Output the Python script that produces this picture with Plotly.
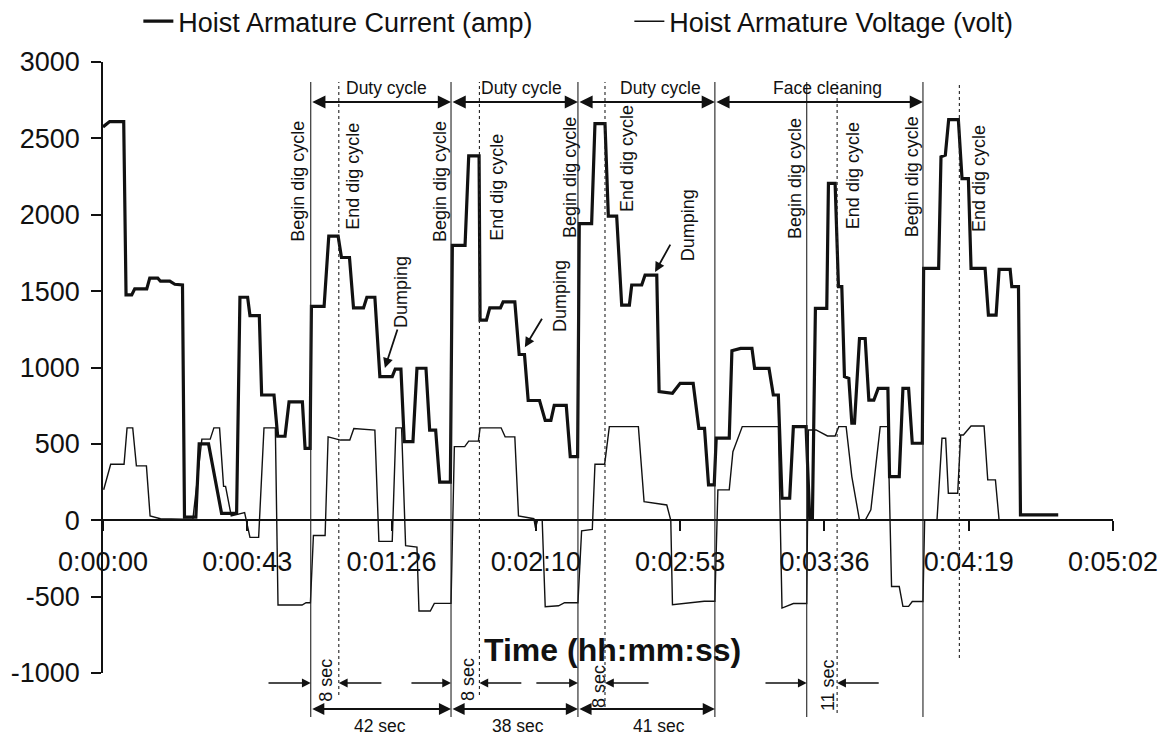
import plotly.graph_objects as go

# ---------------- data (time in seconds) ----------------
current_t = [0.0, 2.0, 6.2, 6.9, 8.6, 9.5, 13.1, 14.0, 16.4, 17.2, 20.0, 21.5, 23.8,
             24.4, 27.8, 28.8, 31.6, 35.5, 40.0, 41.0, 43.3, 44.0, 46.8, 47.5, 51.2,
             52.3, 54.5, 55.7, 59.7, 60.5, 62.0,
             62.4, 66.2, 67.6, 70.4, 71.4, 73.8, 75.0, 78.0, 79.0, 81.4, 82.9, 86.6,
             87.5, 89.2, 90.2, 92.8, 94.0, 96.7, 97.8, 99.6, 100.8, 104.0,
             104.6, 108.4, 109.5, 112.6, 112.9, 114.8, 115.8, 119.0, 119.8, 123.3,
             124.6, 126.2, 127.3, 130.7, 132.4, 134.1, 135.1, 138.7, 139.9, 142.1,
             142.6, 146.3, 147.3, 150.3, 151.3, 153.8, 155.3, 157.6, 158.3, 161.3,
             162.3, 165.8, 166.5, 170.5, 172.8, 176.7, 178.4, 180.1, 181.3, 183.0,
             183.6, 187.5, 188.3, 190.9, 194.3, 195.1, 199.4, 200.7, 202.2, 203.3,
             205.6, 206.7, 210.5, 211.6, 212.4, 213.3, 216.7, 217.2, 219.2, 220.2,
             221.2, 222.0, 223.3, 224.2, 225.0, 226.5, 228.2, 229.3, 230.8, 232.1,
             235.0, 235.5, 238.4, 239.5, 241.2, 242.3, 245.3,
             245.7, 250.2, 250.9, 252.2, 253.2, 256.1, 257.2, 259.1, 259.9, 264.1,
             265.1, 267.4, 268.3, 271.6, 272.1, 274.1, 274.7, 286.0]
current_v = [2575, 2610, 2610, 1475, 1475, 1515, 1515, 1585, 1585, 1565, 1565, 1545, 1540,
             20, 20, 500, 500, 45, 45, 1460, 1460, 1340, 1340, 820, 820,
             550, 550, 775, 775, 470, 470,
             1400, 1400, 1860, 1860, 1720, 1720, 1390, 1390, 1460, 1460, 940, 940,
             990, 990, 515, 515, 995, 995, 590, 590, 250, 250,
             1800, 1800, 2385, 2385, 1310, 1310, 1390, 1390, 1430, 1430,
             1085, 1085, 784, 784, 654, 654, 752, 752, 417, 417,
             1942, 1942, 2597, 2597, 1991, 1991, 1409, 1409, 1540, 1540,
             1605, 1605, 842, 831, 896, 896, 602, 602, 231, 231,
             537, 537, 1110, 1125, 1125, 994, 994, 820, 820, 144,
             144, 613, 613, 10, 10, 1387, 1387, 2205, 2205, 1529,
             1529, 940, 929, 635, 635, 1190, 1190, 787, 787, 863,
             863, 286, 286, 863, 863, 504, 504,
             1649, 1649, 2379, 2390, 2623, 2623, 2237, 2237, 1649, 1649,
             1343, 1343, 1642, 1642, 1529, 1529, 35, 35]

voltage_t = [0.2, 2.3, 6.3, 7.2, 8.9, 10.0, 13.0, 14.1, 17.2, 24.0, 26.9, 29.6, 32.1,
             33.2, 34.9, 36.1, 36.7, 38.4, 42.4, 44.0, 46.6, 48.2, 51.6, 52.4, 59.6,
             60.8, 62.1,
             63.0, 66.5, 67.4, 71.1, 73.9, 75.1, 81.4, 82.6, 86.6, 87.7, 89.4, 90.6,
             94.0, 94.6, 98.0, 99.2, 104.2,
             105.2, 108.3, 109.5, 112.4, 112.9, 119.2, 120.4, 123.3, 124.4, 129.0,
             129.5, 130.1, 131.5, 132.4, 136.4, 138.2, 142.2,
             143.3, 146.5, 147.3, 150.2, 151.6, 160.3, 162.0, 168.8, 170.0, 170.5,
             180.0, 183.2,
             184.1, 187.5, 188.6, 191.4, 202.2, 203.3, 206.7, 210.7,
             211.2, 213.5, 216.9, 219.2, 220.3, 222.5, 224.2, 226.5, 228.2, 229.9,
             232.7, 235.0, 236.1, 236.7, 238.4, 239.5, 241.2, 242.3, 245.5,
             246.0, 249.7, 251.2, 252.3, 253.1, 255.9, 256.8, 257.6, 259.9, 263.8,
             264.9, 267.2, 268.3, 286.0]
voltage_v = [200, 367, 367, 605, 605, 356, 356, 28, 10, 5, 5, 531, 531,
             605, 605, 222, 222, 28, 50, -112, -112, 605, 605, -555, -555,
             -540, -540,
             -100, -100, 546, 525, 525, 600, 590, -138, -138, 605, 605, -166,
             -176, -594, -594, -544, -544,
             482, 482, 518, 518, 605, 605, 546, 546, 28, 10,
             -50, 0, 0, -566, -560, -540, -540,
             -69, -60, 367, 367, 613, 613, 122, 100, 0, -553,
             -530, -530,
             199, 199, 449, 613, 613, -575, -545, -545,
             591, 591, 552, 552, 613, 613, 286, 0, 0, 68,
             613, 613, -434, -434, -434, -564, -564, -532, -532,
             0, 0, 537, 537, 177, 177, 558, 558, 617, 617,
             264, 264, 0, 0]

x_tickvals = [0, 43.2, 86.4, 129.6, 172.8, 216.0, 259.2, 302.4]
x_ticktext = ["0:00:00", "0:00:43", "0:01:26", "0:02:10", "0:02:53",
              "0:03:36", "0:04:19", "0:05:02"]
y_tickvals = [-1000, -500, 0, 500, 1000, 1500, 2000, 2500, 3000]
y_ticktext = ["-1000", "-500", "0", "500", "1000", "1500", "2000", "2500", "3000"]

begin_dig_t = [62.2, 104.2, 142.2, 183.2, 210.7, 245.5]     # solid lines
end_dig_t = [70.6, 112.7, 150.3, 219.8, 256.4]             # dashed lines
period_labels = ["Duty cycle", "Duty cycle", "Duty cycle", "Face cleaning"]
period_label_t = [85.0, 125.4, 166.9, 216.8]
period_bounds = [(62.2, 104.2), (104.2, 142.2), (142.2, 183.2), (183.2, 245.5)]
cycle_len_labels = ["42 sec", "38 sec", "41 sec"]
cycle_len_t = [83.0, 124.3, 166.6]
dig_len_labels = ["8 sec", "8 sec", "8 sec", "11 sec"]
dig_len_t = [66.7, 109.3, 148.5, 217.1]
begin_label_t = [58.3, 100.9, 139.8, 207.2, 242.3]
end_label_t = [74.8, 117.9, 156.9, 224.6, 262.3]
dump_label_t = [89.2, 136.8, 175.2]
dump_arrow_head = [(84.4, 997), (126.3, 1133), (165.3, 1625)]
dump_arrow_tail = [(88.3, 1258), (131.7, 1329), (170.1, 1814)]

# ---------------- figure ----------------
FONT = "Liberation Sans, Arial, sans-serif"
INK = "#111111"
PLOT_H = 611.0

def py(p):
    """pixel row (from top of page) -> paper y"""
    return (673.0 - p) / PLOT_H

fig = go.Figure()
fig.add_trace(go.Scatter(x=current_t, y=current_v, mode="lines",
                         name="Hoist Armature Current (amp)",
                         line=dict(color=INK, width=3.2)))
fig.add_trace(go.Scatter(x=voltage_t, y=voltage_v, mode="lines",
                         name="Hoist Armature Voltage (volt)",
                         line=dict(color=INK, width=1.4)))

shapes = []
for t in begin_dig_t:
    shapes.append(dict(type="line", xref="x", yref="paper", x0=t, x1=t,
                       y0=py(717), y1=py(82), line=dict(color="#222", width=1.1)))
dash_bottoms = [695, 695, 707, 713, 658]
for t, b in zip(end_dig_t, dash_bottoms):
    shapes.append(dict(type="line", xref="x", yref="paper", x0=t, x1=t,
                       y0=py(b), y1=py(82), line=dict(color="#222", width=1.1, dash="3px,3px")))

ann = []
small = dict(family=FONT, size=17.5, color=INK)
rot = dict(family=FONT, size=18, color=INK)

def label(x, y, text, xref="x", angle=0, font=small):
    return dict(x=x, y=y, xref=xref, yref="paper", text=text, textangle=angle,
                showarrow=False, font=font, xanchor="center", yanchor="middle")

# top period arrows + labels
for (a, b), lab, lt in zip(period_bounds, period_labels, period_label_t):
    ann.append(dict(x=b, y=py(102), xref="x", yref="paper", ax=a, ay=0,
                    axref="x", ayref="pixel", text="", showarrow=True,
                    arrowhead=2, arrowside="end+start", arrowsize=1.2,
                    arrowwidth=2.2, arrowcolor=INK, standoff=0, startstandoff=0))
    ann.append(label(lt, py(88), lab))
# rotated labels
for t, yy in zip(begin_label_t, [181, 182, 177, 179, 177]):
    ann.append(label(t, py(yy), "Begin dig cycle", angle=-90, font=rot))
for t, yy in zip(end_label_t, [176, 187, 159, 176, 179]):
    ann.append(label(t, py(yy), "End dig cycle", angle=-90, font=rot))
for t, yy in zip(dump_label_t, [292, 296, 225]):
    ann.append(label(t, py(yy), "Dumping", angle=-90, font=rot))
for (hx, hy), (tx, ty) in zip(dump_arrow_head, dump_arrow_tail):
    ann.append(dict(x=hx, y=hy, xref="x", yref="y", ax=tx, ay=ty, axref="x", ayref="y",
                    text="", showarrow=True, arrowhead=2, arrowsize=1.1, arrowwidth=1.8,
                    arrowcolor=INK, standoff=0))
# bottom cycle-length arrows
for (a, b), lab, lt in zip(period_bounds[:3], cycle_len_labels, cycle_len_t):
    ann.append(dict(x=b, y=py(709), xref="x", yref="paper", ax=a, ay=0,
                    axref="x", ayref="pixel", text="", showarrow=True,
                    arrowhead=2, arrowside="end+start", arrowsize=1.1,
                    arrowwidth=2.2, arrowcolor=INK, standoff=0, startstandoff=0))
    ann.append(label(lt, py(726), lab))
# dig-length labels and pointer arrows
for t, lab, yy in zip(dig_len_t, dig_len_labels, [680, 680, 686, 685]):
    ann.append(label(t, py(yy), lab, angle=-90, font=rot))
pointer_heads = [begin_dig_t[0], end_dig_t[0], begin_dig_t[1], end_dig_t[1],
                 begin_dig_t[2], end_dig_t[2], begin_dig_t[4], end_dig_t[3]]
pointer_tails = [49.1, 83.8, 91.9, 125.7, 129.3, 163.8, 197.9, 232.7]
for h, tl in zip(pointer_heads, pointer_tails):
    ann.append(dict(x=h, y=py(683), xref="x", yref="paper", ax=tl, ay=0,
                    axref="x", ayref="pixel", text="", showarrow=True,
                    arrowhead=2, arrowsize=1.1, arrowwidth=1.6, arrowcolor=INK, standoff=0))
# axis title
ann.append(label(0.504, py(650), "<b>Time (hh:mm:ss)</b>", xref="paper",
                 font=dict(family=FONT, size=32, color=INK)))

fig.update_layout(
    width=1172, height=735,
    margin=dict(l=103, r=59, t=62, b=62, autoexpand=False),
    paper_bgcolor="white", plot_bgcolor="white",
    font=dict(family=FONT, color=INK),
    shapes=shapes, annotations=ann,
    showlegend=True,
    legend=dict(orientation="h", x=0.035, xanchor="left", y=1.066, yanchor="middle",
                font=dict(family=FONT, size=27, color=INK),
                entrywidth=446, entrywidthmode="pixels", bgcolor="rgba(0,0,0,0)"),
    xaxis=dict(range=[0, 302.4], anchor="free", position=0.25,
               showline=True, linecolor=INK, linewidth=1.6,
               ticks="outside", ticklen=10, tickwidth=1.6, tickcolor=INK,
               tickvals=x_tickvals, ticktext=x_ticktext,
               tickfont=dict(family=FONT, size=27, color=INK),
               ticklabelstandoff=8, showgrid=False, zeroline=False),
    yaxis=dict(range=[-1000, 3000], showline=True, linecolor=INK, linewidth=1.6,
               ticks="outside", ticklen=10, tickwidth=1.6, tickcolor=INK,
               tickvals=y_tickvals, ticktext=y_ticktext,
               tickfont=dict(family=FONT, size=27, color=INK),
               ticklabelstandoff=6, showgrid=False, zeroline=False),
)

fig.write_html("out.html")
